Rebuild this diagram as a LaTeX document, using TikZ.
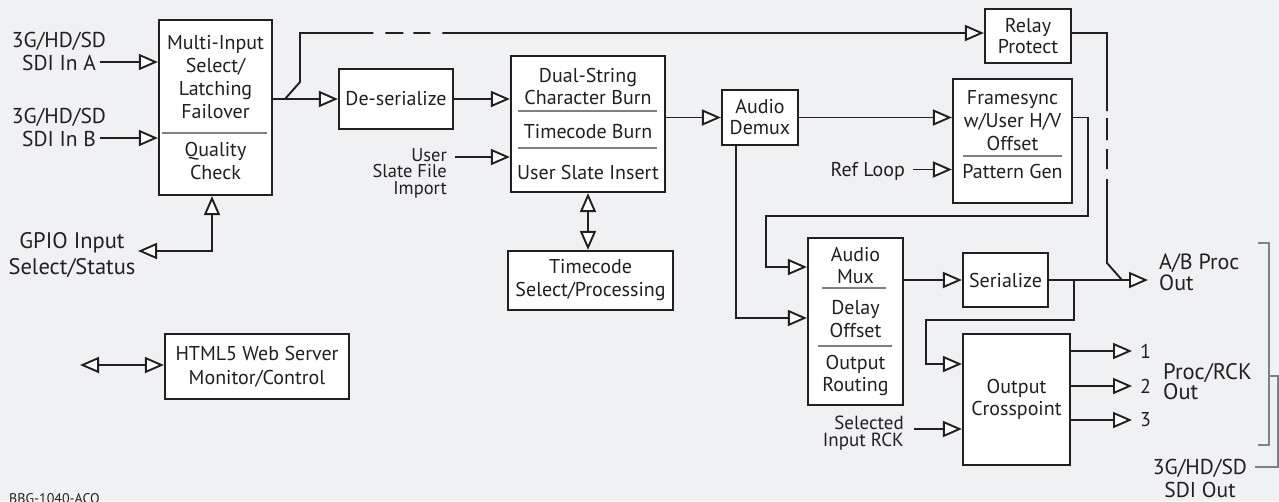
\documentclass[tikz,border=0pt]{standalone}
\usepackage{fontspec}
\setmainfont{PT Sans}
\usepackage{tikz}
\usetikzlibrary{arrows.meta,positioning}
\definecolor{BGPaper}{RGB}{240,241,243}
\definecolor{BGInk}{RGB}{35,31,32}
\definecolor{BGRule}{RGB}{128,128,128}

\begin{document}
\begin{tikzpicture}[
  x=1pt, y=-1pt,
  font=\fontsize{20}{23}\selectfont,
  box/.style={draw=BGInk, line width=2.2pt, fill=white, align=center, inner sep=0pt, text=BGInk},
  lbl/.style={align=center, inner sep=0pt, text=BGInk},
  wire/.style={draw=BGInk, line width=1.9pt},
  line/.style={wire, -{Triangle[length=19pt, width=16pt, fill=white]}},
  both/.style={wire, {Triangle[length=19pt, width=16pt, fill=white]}-{Triangle[length=19pt, width=16pt, fill=white]}},
  divider/.style={draw=BGRule, line width=1.5pt},
  bracket/.style={draw=BGRule, line width=1.3pt}
]
\fill[BGPaper] (0,0) rectangle (1279,501);
\useasboundingbox (0,0) rectangle (1279,501);

% processing blocks
\node[box, minimum width=113pt, minimum height=175pt] (sel) at (215.5,107.5) {Multi-Input\\Select/\\Latching\\Failover\\[15pt]Quality\\Check};
\node[box, minimum width=114pt, minimum height=60pt] (deser) at (396,99) {De-serialize};
\node[box, minimum width=154pt, minimum height=136pt, font=\fontsize{20}{21.5}\selectfont] (burn) at (588,124) {Dual-String\\Character Burn\\[12.5pt]Timecode Burn\\[19.5pt]User Slate Insert};
\node[box, minimum width=165pt, minimum height=59pt] (tcode) at (590.5,280.5) {Timecode\\Select/Processing};
\node[box, minimum width=76pt, minimum height=55pt, font=\fontsize{20}{21}\selectfont] (demux) at (760,117.5) {Audio\\Demux};
\node[box, minimum width=86pt, minimum height=54pt, font=\fontsize{20}{21}\selectfont] (relay) at (1028,36) {Relay\\Protect};
\node[box, minimum width=119pt, minimum height=124pt] (fsync) at (1012.5,141) {Framesync\\w/User H/V\\Offset\\[5pt]Pattern Gen\rule[-14pt]{0pt}{14pt}};
\node[box, minimum width=95pt, minimum height=167pt, font=\fontsize{20}{22.5}\selectfont] (amux) at (855.5,321.5) {Audio\\Mux\\[8.5pt]Delay\\Offset\\[9.5pt]Output\\Routing};
\node[box, minimum width=85pt, minimum height=54pt] (ser) at (1005.5,280) {Serialize};
\node[box, minimum width=107pt, minimum height=131pt, font=\fontsize{20}{22}\selectfont] (xpt) at (1016.5,399.5) {Output\\Crosspoint};
\node[box, minimum width=184pt, minimum height=65pt, font=\fontsize{20}{24}\selectfont] (web) at (257,366.5) {HTML5 Web Server\\Monitor/Control};

% section rules
\draw[divider] (162,133) -- (267,133);
\draw[divider] (518,111) -- (657,111);
\draw[divider] (518,148) -- (657,148);
\draw[divider] (963,156) -- (1062,156);
\draw[divider] (822,288) -- (886,288);
\draw[divider] (818,346) -- (892,346);

% signal labels
\node[lbl, font=\fontsize{21.5}{23}\selectfont] (inA) at (59,51.5) {3G/HD/SD\\SDI In A};
\node[lbl, font=\fontsize{21.5}{23}\selectfont] (inB) at (59,127.5) {3G/HD/SD\\SDI In B};
\node[lbl, font=\fontsize{22.5}{26}\selectfont] (gpio) at (72,255) {GPIO Input\\Select/Status};
\node[lbl, align=right, anchor=east, font=\fontsize{18.5}{16.5}\selectfont] (user) at (447,173) {User\\Slate File\\Import};
\node[lbl, anchor=east] (ref) at (905,171) {Ref Loop};
\node[lbl, align=right, anchor=east, font=\fontsize{19}{17}\selectfont] (rck) at (904,433.5) {Selected\\Input RCK};
\node[lbl, align=left, anchor=west, font=\fontsize{22}{21}\selectfont] (about) at (1159,272.5) {A/B Proc\\Out};
\node[lbl, align=left, anchor=west, font=\fontsize{22.5}{20}\selectfont] (rckout) at (1163,382) {Proc/RCK\\Out};
\node[lbl, font=\fontsize{21.5}{23}\selectfont] (sdiout) at (1200,478.5) {3G/HD/SD\\SDI Out};
\node[lbl, anchor=west, inner xsep=8pt] (o1) at (1132,351) {1};
\node[lbl, anchor=west, inner xsep=8pt] (o2) at (1132,386) {2};
\node[lbl, anchor=west, inner xsep=8pt] (o3) at (1132,420) {3};
\node[lbl, anchor=north west, font=\fontsize{14}{16}\selectfont] (code) at (9,493) {BBG-1040-ACO};

% free ends
\coordinate (inA-s) at (100,62);
\coordinate (inB-s) at (100,138);
\coordinate (gpio-e) at (138,251);
\coordinate (split) at (285,99);
\coordinate (user-s) at (455,157);
\coordinate (ref-s) at (913,169.5);
\coordinate (rck-s) at (914,429);
\coordinate (tap) at (1074,280);
\coordinate (merge) at (1122,280);
\coordinate (ab-tip) at (1148,280);
\coordinate (web-s) at (80,365);

% connectors
\draw[line] (inA-s) -- (sel.west |- inA-s);
\draw[line] (inB-s) -- (sel.west |- inB-s);
\draw[both] (gpio-e) -| ([xshift=-3.5pt]sel.south);
\draw[line] (sel.east |- deser.west) -- (deser.west);
\draw[line, dash pattern=on 145pt off 12pt on 18pt off 10pt on 17pt off 12pt on 800pt] (split) -- (300,82) -- (300,33) -- (relay.west |- 0,33);
\draw[wire, dash pattern=on 113pt off 7pt on 22pt off 9pt on 20pt off 10pt on 500pt] (relay.east |- 0,33) -- (1107,33) -- (1107,263) -- (merge);
\draw[line] (deser.east) -- (burn.west |- deser.east);
\draw[line] (user-s) -- (burn.west |- user-s);
\draw[both] (burn.south) -- (burn.south |- tcode.north);
\draw[line] (burn.east |- demux.west) -- (demux.west);
\draw[line] (demux.east) -- (fsync.west |- demux.east);
\draw[line] (ref-s) -- (fsync.west |- ref-s);
\draw[line] (fsync.east |- demux.east) -- (1088,117.5) |- (766,216) |- (amux.west |- 0,267);
\draw[line] ([xshift=-24pt]demux.south) |- (amux.west |- 0,318);
\draw[line] (amux.east |- ser.west) -- (ser.west);
\draw[line] (ser.east) -- (ab-tip);
\draw[line] (tap) |- (926,320) |- (xpt.west |- 0,364);
\draw[line] (rck-s) -- (xpt.west |- rck-s);
\draw[line] (xpt.east |- o1) -- (o1.west);
\draw[line] (xpt.east |- o2) -- (o2.west);
\draw[line] (xpt.east |- o3) -- (o3.west);
\draw[both] (web-s) -- (web.west |- web-s);

% output grouping
\draw[bracket] (1258,243) -- (1269,243) -- (1269,445) -- (1258,445);
\draw[bracket] (1269,376) -- (1278,376) -- (1278,467) -- (1255,467);
\end{tikzpicture}
\end{document}
